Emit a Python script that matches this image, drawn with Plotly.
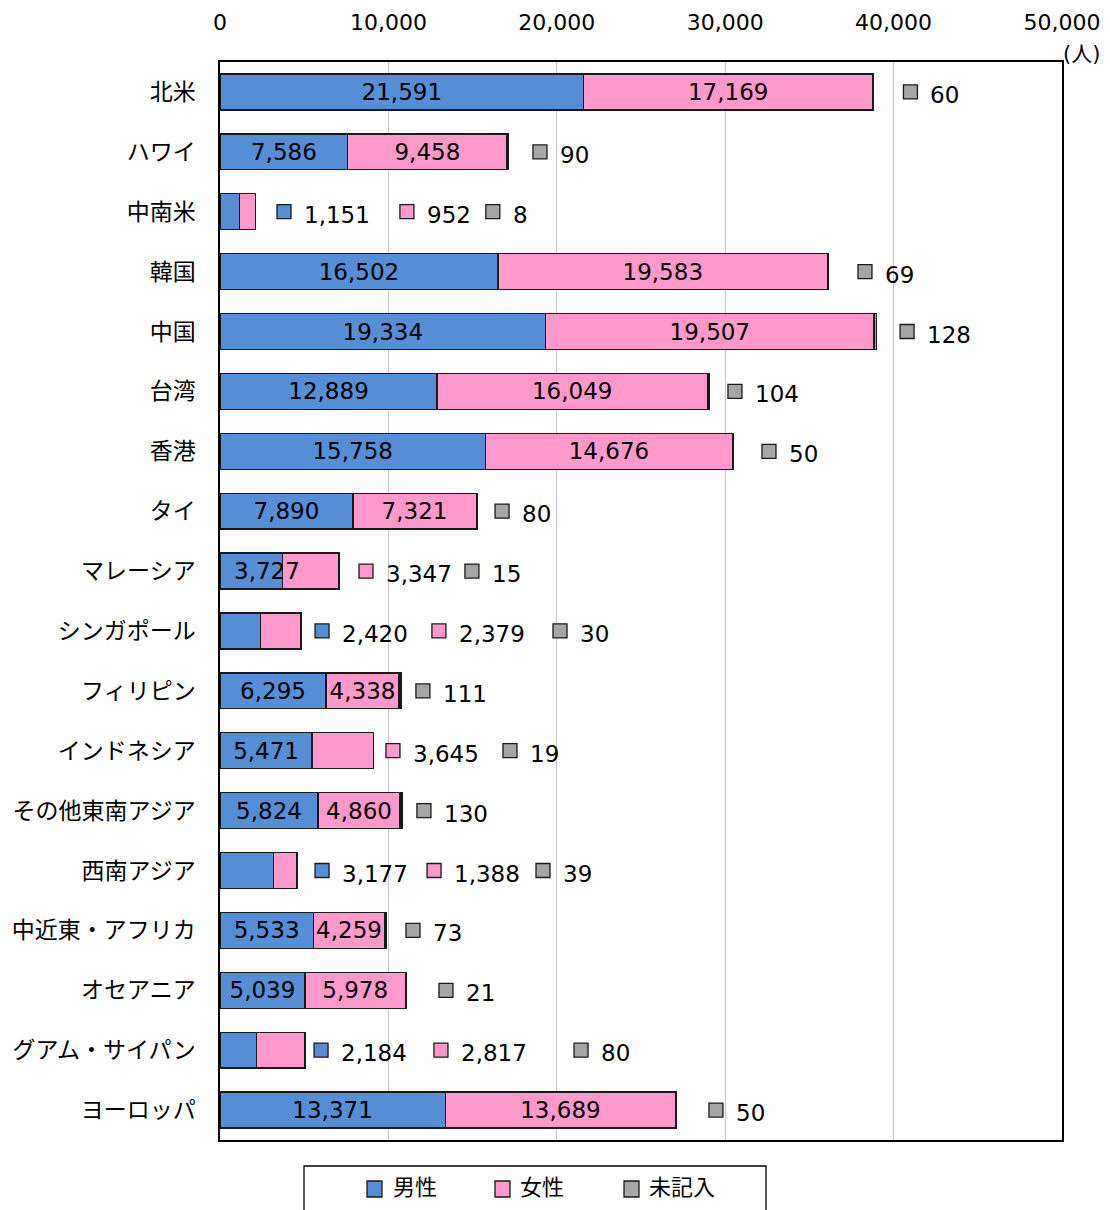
import plotly.graph_objects as go

categories = ["北米", "ハワイ", "中南米", "韓国", "中国", "台湾", "香港", "タイ", "マレーシア",
              "シンガポール", "フィリピン", "インドネシア", "その他東南アジア", "西南アジア",
              "中近東・アフリカ", "オセアニア", "グアム・サイパン", "ヨーロッパ"]
male = [21591, 7586, 1151, 16502, 19334, 12889, 15758, 7890, 3727, 2420, 6295, 5471, 5824, 3177, 5533, 5039, 2184, 13371]
female = [17169, 9458, 952, 19583, 19507, 16049, 14676, 7321, 3347, 2379, 4338, 3645, 4860, 1388, 4259, 5978, 2817, 13689]
unknown = [60, 90, 8, 69, 128, 104, 50, 80, 15, 30, 111, 19, 130, 39, 73, 21, 80, 50]
series_names = ["男性", "女性", "未記入"]
x_ticks = [0, 10000, 20000, 30000, 40000, 50000]
x_ticktext = ["0", "10,000", "20,000", "30,000", "40,000", "50,000"]

# which values are labelled inside the bar
male_inside = [True, True, False, True, True, True, True, True, False, False, True, True, True, False, True, True, False, True]
female_inside = [True, True, False, True, True, True, True, True, False, False, True, False, True, False, True, True, False, True]

# male label that straddles the bar boundary (category index -> centre x in data units)
male_straddle_x = {8: 2790}

# outside label positions (x of the square marker, data units), None = no outside label
male_lbl_x = [None, None, 3800, None, None, None, None, None, None, 6060, None, None, None, 6060, None, None, 6000, None]
female_lbl_x = [None, None, 11100, None, None, None, None, None, 8670, 13000, None, 10270, None, 12710, None, None, 13120, None]
unknown_lbl_x = [41000, 19000, 16200, 38300, 40800, 30580, 32600, 16750, 14960, 20190, 12050, 17220, 12110, 19180, 11460, 13420, 21440, 29450]

BLUE = "#558ED5"
PINK = "#FF99CC"
GRAY = "#A6A6A6"
EDGE = "#1a1a1a"
FONT = "DejaVu Sans, Noto Sans CJK JP, sans-serif"
COLORS = [BLUE, PINK, GRAY]

W, H = 1102, 1202
ML, MR, MT, MB = 212, 48, 54, 70
PW, PH = W - ML - MR, H - MT - MB


def px(xp):
    return (xp - ML) / PW


def py(yp):
    return (H - MB - yp) / PH


fig = go.Figure()


def fmt(v):
    return f"{v:,}"


for name, vals, inside, color in [("男性", male, male_inside, BLUE), ("女性", female, female_inside, PINK),
                                  ("未記入", unknown, [False] * len(unknown), GRAY)]:
    fig.add_trace(go.Bar(
        y=categories, x=vals, orientation="h", name=name,
        marker=dict(color=color, line=dict(color=EDGE, width=1.3)),
        text=[fmt(v) if f else "" for v, f in zip(vals, inside)],
        textposition="inside", insidetextanchor="middle", textangle=0,
        constraintext="none", textfont=dict(size=23, color="black", family=FONT),
        width=0.6, hoverinfo="skip", showlegend=False))

annotations = []
for i, cx in male_straddle_x.items():
    annotations.append(dict(x=cx, y=categories[i], xref="x", yref="y", text=fmt(male[i]),
                            showarrow=False, xanchor="center",
                            font=dict(size=23, color="black", family=FONT)))

for lbl_x, vals, color in [(male_lbl_x, male, BLUE), (female_lbl_x, female, PINK), (unknown_lbl_x, unknown, GRAY)]:
    xs, ys = [], []
    for cat, lx, v in zip(categories, lbl_x, vals):
        if lx is None:
            continue
        xs.append(lx)
        ys.append(cat)
        annotations.append(dict(x=lx, y=cat, xref="x", yref="y", text=fmt(v),
                                showarrow=False, xanchor="left", xshift=18, yshift=-3,
                                font=dict(size=23, color="black", family=FONT)))
    fig.add_trace(go.Scatter(
        x=xs, y=ys, mode="markers", showlegend=False, hoverinfo="skip",
        marker=dict(symbol="square", size=14, color=color, line=dict(color=EDGE, width=1.3)),
        cliponaxis=False))

# unit label
annotations.append(dict(x=1.0, y=1.0, xref="paper", yref="paper", text="(人)", showarrow=False,
                        xanchor="left", yanchor="middle", xshift=-1, yshift=8,
                        font=dict(size=21, color="black", family=FONT)))

# custom legend
shapes = [dict(type="rect", xref="paper", yref="paper", x0=px(296), x1=px(758), y0=py(1158), y1=py(1230),
               line=dict(color="black", width=1.3), fillcolor="rgba(0,0,0,0)", layer="above")]
leg_sq_x = [359, 487, 616]
leg_txt_x = [383, 510, 639]
for name, color, sx, tx in zip(series_names, COLORS, leg_sq_x, leg_txt_x):
    shapes.append(dict(type="rect", xref="paper", yref="paper", x0=px(sx), x1=px(sx + 15),
                       y0=py(1173), y1=py(1189), line=dict(color=EDGE, width=1.3), fillcolor=color,
                       layer="above"))
    annotations.append(dict(x=px(tx), y=py(1179), xref="paper", yref="paper", text=name,
                            showarrow=False, xanchor="left", yanchor="middle",
                            font=dict(size=22, color="black", family=FONT)))

fig.update_layout(
    barmode="stack",
    width=W, height=H,
    margin=dict(l=ML, r=MR, t=MT, b=MB, autoexpand=False),
    paper_bgcolor="white", plot_bgcolor="white",
    font=dict(family=FONT, color="black"),
    annotations=annotations,
    shapes=shapes,
    showlegend=False,
    xaxis=dict(side="top", range=[0, 50000], tickvals=x_ticks, ticktext=x_ticktext,
               tickfont=dict(size=22, family=FONT), showgrid=True, gridcolor="#C8C8C8", gridwidth=1,
               showline=True, linecolor="black", linewidth=1.5, mirror=True, ticks="",
               ticklabelstandoff=21, zeroline=False, fixedrange=True, automargin=False),
    yaxis=dict(categoryorder="array", categoryarray=categories, range=[len(categories) - 0.5, -0.5],
               tickfont=dict(size=23, family=FONT), showline=True, linecolor="black", linewidth=1.5,
               mirror=True, ticks="", ticklabelstandoff=18, showgrid=False, fixedrange=True,
               automargin=False),
)

fig.write_html("out.html")
